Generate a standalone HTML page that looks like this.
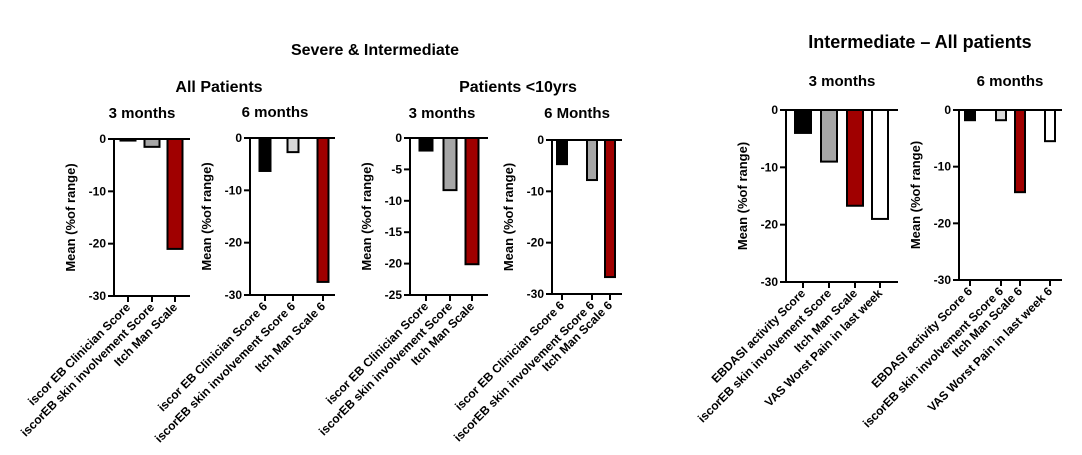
<!DOCTYPE html>
<html><head><meta charset="utf-8"><style>
html,body{margin:0;padding:0;background:#fff;}
svg{display:block;font-family:"Liberation Sans",Arial,sans-serif;font-weight:bold;}
</style></head><body>
<svg id="c" width="1082" height="455" viewBox="0 0 1082 455">
<text x="375" y="55" font-size="16" text-anchor="middle">Severe &amp; Intermediate</text>
<text x="219" y="92" font-size="16" text-anchor="middle">All Patients</text>
<text x="518" y="92" font-size="16" text-anchor="middle">Patients &lt;10yrs</text>
<text x="920" y="48" font-size="18" text-anchor="middle">Intermediate – All patients</text>
</svg>
<script>
const cats1 = ["iscor EB Clinician Score","iscorEB skin involvement Score","Itch Man Scale"];
const vals1 = [-0.3,-1.5,-21];
const cats2 = ["iscor EB Clinician Score 6","iscorEB skin involvement Score 6","Itch Man Scale 6"];
const vals2 = [-6.3,-2.7,-27.5];
const cats3 = ["iscor EB Clinician Score","iscorEB skin involvement Score","Itch Man Scale"];
const vals3 = [-2,-8.3,-20.1];
const cats4 = ["iscor EB Clinician Score 6","iscorEB skin involvement Score 6","Itch Man Scale 6"];
const vals4 = [-4.7,-7.8,-26.7];
const cats5 = ["EBDASI activity Score","iscorEB skin involvement Score","Itch Man Scale","VAS Worst Pain in last week"];
const vals5 = [-4,-9,-16.7,-19];
const cats6 = ["EBDASI activity Score 6","iscorEB skin involvement Score 6","Itch Man Scale 6","VAS Worst Pain in last week 6"];
const vals6 = [-1.8,-1.8,-14.5,-5.5];
const ticks30 = [0,-10,-20,-30];
const ticks25 = [0,-5,-10,-15,-20,-25];

const svg=document.getElementById('c');
const NS="http://www.w3.org/2000/svg";
function mk(tag,attrs){const e=document.createElementNS(NS,tag);for(const k in attrs)e.setAttribute(k,attrs[k]);svg.appendChild(e);return e;}

const charts=[
 {id:'all-3m',title:'3 months',tx:142,ty:118,ax:114,x1:190,y0:139,y1:296,min:-30,ticks:ticks30,cats:cats1,vals:vals1,cx:[128,152,175],w:15,fills:['#000','#a6a6a6','#a00000'],ylx:75},
 {id:'all-6m',title:'6 months',tx:275,ty:117,ax:250,x1:335,y0:138,y1:295,min:-30,ticks:ticks30,cats:cats2,vals:vals2,cx:[265,293,323],w:11,fills:['#000','#d9d9d9','#a00000'],ylx:211},
 {id:'u10-3m',title:'3 months',tx:442,ty:118,ax:410,x1:488,y0:138,y1:295,min:-25,ticks:ticks25,cats:cats3,vals:vals3,cx:[426,450,472],w:13,fills:['#000','#a6a6a6','#a00000'],ylx:371},
 {id:'u10-6m',title:'6 Months',tx:577,ty:118,ax:552,x1:622,y0:140,y1:294,min:-30,ticks:ticks30,cats:cats4,vals:vals4,cx:[562,592,610],w:10,fills:['#000','#a6a6a6','#a00000'],ylx:513},
 {id:'int-3m',title:'3 months',tx:842,ty:86,ax:786,x1:898,y0:110,y1:282,min:-30,ticks:ticks30,cats:cats5,vals:vals5,cx:[803,829,855,880],w:16,fills:['#000','#a6a6a6','#a00000','#fff'],ylx:747},
 {id:'int-6m',title:'6 months',tx:1010,ty:86,ax:959,x1:1062,y0:110,y1:280,min:-30,ticks:ticks30,cats:cats6,vals:vals6,cx:[970,1001,1020,1050],w:10,fills:['#000','#d9d9d9','#a00000','#fff'],ylx:920}
];

charts.forEach(c=>{
  const y=v=>c.y0+(v/c.min)*(c.y1-c.y0);
  let t=mk('text',{x:c.tx,y:c.ty,'font-size':15,'text-anchor':'middle'});t.textContent=c.title;
  
  
  c.vals.forEach((v,i)=>{
    const top=y(0), bot=y(v);
    const r=mk('rect',{x:c.cx[i]-c.w/2,y:top,width:c.w,height:Math.max(0.5,bot-top),fill:c.fills[i],stroke:'#000','stroke-width':2});
    
    
  });
  let a=mk('line',{x1:c.ax,y1:c.y0,x2:c.ax,y2:c.y1,stroke:'#000','stroke-width':2});
  
  
  let b=mk('line',{x1:c.ax-6,y1:c.y0,x2:c.x1,y2:c.y0,stroke:'#000','stroke-width':2});
  
  
  let xb=mk('line',{x1:c.ax-6,y1:c.y1,x2:c.x1,y2:c.y1,stroke:'#000','stroke-width':2});
  
  
  c.ticks.forEach(tv=>{
    const ty=y(tv);
    mk('line',{x1:c.ax-6,y1:ty,x2:c.ax,y2:ty,stroke:'#000','stroke-width':2});
    const tl=mk('text',{x:c.ax-8,y:ty+4,'font-size':12,'text-anchor':'end'});tl.textContent=tv;
    
    
  });
  c.cats.forEach((cat,i)=>{
    const x=c.cx[i];
    mk('line',{x1:x,y1:c.y1,x2:x,y2:c.y1+6,stroke:'#000','stroke-width':2});
    const lx=x+3, ly=c.y1+12;
    const tl=mk('text',{x:lx,y:ly,'font-size':12,'text-anchor':'end',transform:`rotate(-45 ${lx} ${ly})`});tl.textContent=cat;
    
    
  });
  const my=(c.y0+c.y1)/2;
  const yl=mk('text',{x:c.ylx,y:my,'font-size':13,'text-anchor':'middle',transform:`rotate(-90 ${c.ylx} ${my})`});
  yl.textContent='Mean (%of range)';
  
  
});
</script>
</body></html>
